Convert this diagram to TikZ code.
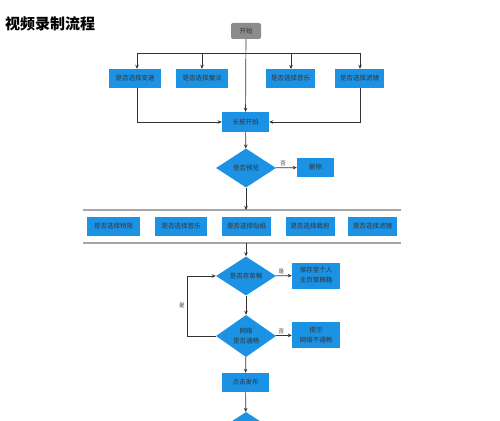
\documentclass[tikz,border=0pt]{standalone}
\usepackage{fontspec}
\setmainfont{Noto Sans CJK SC}
\usetikzlibrary{shapes.geometric, arrows.meta, positioning}
\definecolor{flowblue}{RGB}{28,146,228}
\definecolor{startgray}{RGB}{140,140,140}

\begin{document}
\begin{tikzpicture}[
  x=1pt, y=-1pt,
  startnode/.style={rounded corners=2pt, fill=startgray, text=black!80,
    font=\fontsize{6.5}{8}\selectfont, minimum height=16pt, minimum width=30pt, inner sep=1pt},
  fbox/.style={fill=flowblue, text=black!80, font=\fontsize{6.5}{10}\selectfont,
    minimum height=19pt, minimum width=52pt, inner sep=1pt, align=center},
  dbox/.style={diamond, fill=flowblue, text=black!80, font=\fontsize{6.5}{10}\selectfont,
    minimum width=60pt, minimum height=39pt, inner sep=0pt, align=center},
  lbl/.style={font=\fontsize{5.5}{6}\selectfont, text=black!80, inner sep=1pt},
  line/.style={black!80, line width=0.7pt},
  arr/.style={line, -{Stealth[length=4pt, width=3.5pt]}},
  sepline/.style={gray!70, line width=1.2pt}
]
  \useasboundingbox (0,0) rectangle (500,420);

  %% TITLE
  \node[anchor=west, inner sep=0pt, font=\fontsize{15}{16}\bfseries\selectfont] (title) at (5,24) {视频录制流程};

  %% START + ROW 1
  \node[startnode] (start) at (246,31) {开始};

  \node[fbox] (speed)  at (135,78.5) {是否选择变速};
  \node[fbox] (magic)  at (202,78.5) {是否选择魔法};
  \node[fbox, minimum width=49pt] (music)  at (290.5,78.5) {是否选择音乐};
  \node[fbox, minimum width=49pt] (filter) at (359.5,78.5) {是否选择滤镜};

  \node[fbox, minimum width=47pt, minimum height=20pt] (press) at (245.5,122) {长按开拍};

  %% PREVIEW CHECK
  \node[dbox] (preview) at (246,168) {是否预览};
  \node[fbox, minimum width=37pt] (delete) at (315.5,167.5) {删除};

  %% ROW 2 between the two rules
  \node[fbox, minimum width=53pt] (effect) at (113.5,226.5) {是否选择特效};
  \node[fbox] (music2)  at (181,226.5) {是否选择音乐};
  \node[fbox, minimum width=49pt] (sticker) at (246.5,226.5) {是否选择贴纸};
  \node[fbox, minimum width=49pt] (cut)     at (310,226.5) {是否选择裁剪};
  \node[fbox, minimum width=49pt] (filter2) at (372.5,226.5) {是否选择滤镜};

  %% DRAFT / NETWORK / PUBLISH
  \node[dbox] (draft) at (246,276) {是否存草稿};
  \node[fbox, minimum width=48pt, minimum height=26pt] (save) at (316,275.5) {保存至个人\\主页草稿箱};
  \node[dbox] (net) at (246,336) {网络\\是否通畅};
  \node[fbox, minimum width=48pt, minimum height=26pt] (hint) at (316,335) {提示\\网络不通畅};
  \node[fbox, minimum width=47pt] (publish) at (245.5,382.5) {点击发布};
  \node[dbox] (last) at (246,431.5) {};

  %% BUS under start
  \coordinate (busL) at (137,53);
  \coordinate (busR) at (360,53);
  \draw[line] (busL) -- (busR);
  \draw[arr] (busL) -- (busL |- speed.north);
  \draw[arr] (magic |- busL) -- (magic.north);
  \draw[arr] (291,53) -- (291,69);
  \draw[arr] (busR) -- (busR |- filter.north);
  \draw[arr] (start) -- (press);
  %% outer boxes back into press
  \draw[arr] (busL |- speed.south) |- (press.west);
  \draw[arr] (busR |- filter.south) |- (press.east);

  \draw[arr] (press) -- (preview);
  \draw[arr] (preview) -- node[lbl, above, pos=0.35] {否} (delete);

  %% RULES round row 2
  \coordinate (sepTL) at (83,210);
  \coordinate (sepTR) at (401,210);
  \coordinate (sepBL) at (83,243);
  \coordinate (sepBR) at (401,243);
  \draw[sepline] (sepTL) -- (sepTR);
  \draw[sepline] (sepBL) -- (sepBR);
  \draw[arr] (preview.south) -- (preview.south |- sepTL);
  \draw[arr] (draft.north |- sepBL) -- (draft.north);

  \draw[arr] (draft) -- node[lbl, above, pos=0.35] {是} (save);
  \draw[arr] (draft) -- (net);
  \draw[arr] (net) -- node[lbl, above, pos=0.35] {否} (hint);
  %% loop back
  \coordinate (loopL) at (187,336);
  \draw[line] (net.west) -- (loopL);
  \draw[arr] (loopL) |- node[lbl, pos=0.25, left=1pt] {是} (draft.west);

  \draw[arr] (net) -- (publish);
  \draw[arr] (publish) -- (last);
\end{tikzpicture}
\end{document}
